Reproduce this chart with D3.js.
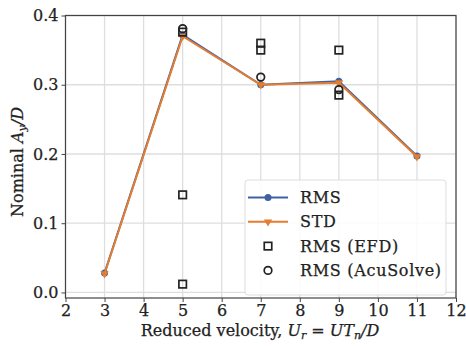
<!DOCTYPE html>
<html>
<head>
<meta charset="utf-8">
<script src="https://d3js.org/d3.v7.min.js"></script>
<style>
  body { margin: 0; background: #fff; }
  svg text { font-family: "DejaVu Serif", serif; fill: #222; }
</style>
</head>
<body>
<div id="chart"></div>
<script>
// reduced velocity
var velocity = [3, 5, 7, 9, 11];
var rmsValues = [0.028, 0.372, 0.300, 0.305, 0.197];
var stdValues = [0.027, 0.370, 0.300, 0.303, 0.196];
// experimental + AcuSolve points
var efdX = [5, 5, 5, 7, 7, 9, 9];
var efdY = [0.376, 0.141, 0.012, 0.360, 0.350, 0.350, 0.285];
var acuX = [5, 7, 9];
var acuY = [0.381, 0.311, 0.293];
var xTicks = [2, 3, 4, 5, 6, 7, 8, 9, 10, 11, 12];
var yTicks = [0.0, 0.1, 0.2, 0.3, 0.4];

var W = 466, H = 346;
var m = {left: 65.5, right: 10, top: 15.5, bottom: 48};

var svg = d3.select("#chart").append("svg")
    .attr("width", W).attr("height", H);

var x = d3.scaleLinear().domain([2, 12]).range([m.left, W - m.right]);
var y = d3.scaleLinear().domain([-0.008, 0.4]).range([H - m.bottom, m.top]);

// grid
svg.append("g").selectAll("line").data(xTicks).enter().append("line")
    .attr("x1", d => x(d)).attr("x2", d => x(d))
    .attr("y1", m.top).attr("y2", H - m.bottom)
    .attr("stroke", "#dedede").attr("stroke-width", 1.3);
svg.append("g").selectAll("line").data(yTicks).enter().append("line")
    .attr("y1", d => y(d)).attr("y2", d => y(d))
    .attr("x1", m.left).attr("x2", W - m.right)
    .attr("stroke", "#dedede").attr("stroke-width", 1.3);

// axes
var xAxis = svg.append("g").attr("transform", "translate(0," + (H - m.bottom) + ")")
    .call(d3.axisBottom(x).tickValues(xTicks).tickFormat(d3.format("d")).tickSize(4).tickPadding(3));
var yAxis = svg.append("g").attr("transform", "translate(" + m.left + ",0)")
    .call(d3.axisLeft(y).tickValues(yTicks).tickFormat(d3.format(".1f")).tickSize(4).tickPadding(3));
[xAxis, yAxis].forEach(function (g) {
    g.select(".domain").remove();
    g.selectAll("line").attr("stroke", "#444");
    g.selectAll("text").style("font-family", "DejaVu Serif").style("font-size", "16px")
        .attr("fill", "#222").attr("stroke", "#222").attr("stroke-width", 0.25);
});

// spines
svg.append("rect")
    .attr("x", m.left).attr("y", m.top)
    .attr("width", W - m.right - m.left).attr("height", H - m.bottom - m.top)
    .attr("fill", "none").attr("stroke", "#444").attr("stroke-width", 1.2);

var blue = "#3f62a3", orange = "#e47d2f";
var line = d3.line().x(d => x(d[0])).y(d => y(d[1]));
var rmsPts = velocity.map((v, i) => [v, rmsValues[i]]);
var stdPts = velocity.map((v, i) => [v, stdValues[i]]);

svg.append("path").datum(rmsPts).attr("d", line)
    .attr("fill", "none").attr("stroke", blue).attr("stroke-width", 2);
svg.append("g").selectAll("circle").data(rmsPts).enter().append("circle")
    .attr("cx", d => x(d[0])).attr("cy", d => y(d[1])).attr("r", 3.5).attr("fill", blue);

var tri = d3.symbol().type(d3.symbolTriangle).size(30);
svg.append("path").datum(stdPts).attr("d", line)
    .attr("fill", "none").attr("stroke", orange).attr("stroke-width", 2);
svg.append("g").selectAll("path").data(stdPts).enter().append("path")
    .attr("d", tri)
    .attr("transform", d => "translate(" + x(d[0]) + "," + y(d[1]) + ") rotate(180)")
    .attr("fill", orange);

// EFD squares
svg.append("g").selectAll("rect").data(efdX.map((v, i) => [v, efdY[i]])).enter().append("rect")
    .attr("x", d => x(d[0]) - 3.75).attr("y", d => y(d[1]) - 3.75)
    .attr("width", 7.5).attr("height", 7.5)
    .attr("fill", "none").attr("stroke", "#222").attr("stroke-width", 1.7);
// AcuSolve circles
svg.append("g").selectAll("circle").data(acuX.map((v, i) => [v, acuY[i]])).enter().append("circle")
    .attr("cx", d => x(d[0])).attr("cy", d => y(d[1])).attr("r", 3.8)
    .attr("fill", "none").attr("stroke", "#222").attr("stroke-width", 1.7);

// legend
var lg = svg.append("g").attr("transform", "translate(245,180)");
lg.append("rect").attr("x", 0).attr("y", 0).attr("width", 201).attr("height", 115)
    .attr("rx", 3).attr("fill", "#fff").attr("fill-opacity", 0.85)
    .attr("stroke", "#ddd").attr("stroke-width", 1);
var labels = ["RMS", "STD", "RMS (EFD)", "RMS (AcuSolve)"];
labels.forEach(function (t, i) {
    var cy = 17.5 + i * 24.3;
    lg.append("text").attr("x", 55).attr("y", cy).attr("dy", "0.35em")
        .style("font-size", "16px").style("letter-spacing", "0.7px")
        .attr("stroke", "#222").attr("stroke-width", 0.25).text(t);
});
lg.append("line").attr("x1", 3).attr("x2", 43).attr("y1", 17.5).attr("y2", 17.5)
    .attr("stroke", blue).attr("stroke-width", 2);
lg.append("circle").attr("cx", 23).attr("cy", 17.5).attr("r", 3.5).attr("fill", blue);
lg.append("line").attr("x1", 3).attr("x2", 43).attr("y1", 41.8).attr("y2", 41.8)
    .attr("stroke", orange).attr("stroke-width", 2);
lg.append("path").attr("d", tri).attr("transform", "translate(23,41.8) rotate(180)").attr("fill", orange);
lg.append("rect").attr("x", 19.25).attr("y", 62.35).attr("width", 7.5).attr("height", 7.5)
    .attr("fill", "none").attr("stroke", "#222").attr("stroke-width", 1.7);
lg.append("circle").attr("cx", 23).attr("cy", 90.4).attr("r", 3.8)
    .attr("fill", "none").attr("stroke", "#222").attr("stroke-width", 1.7);

// axis labels
var xl = svg.append("text").attr("x", 260).attr("y", 336)
    .attr("text-anchor", "middle").style("font-size", "16px")
    .attr("stroke", "#222").attr("stroke-width", 0.25);
xl.append("tspan").text("Reduced velocity, ");
xl.append("tspan").style("font-style", "italic").text("U");
xl.append("tspan").attr("dy", 3).style("font-size", "11px").style("font-style", "italic").text("r");
xl.append("tspan").attr("dy", -3).text(" = ");
xl.append("tspan").style("font-style", "italic").text("UT");
xl.append("tspan").attr("dy", 3).style("font-size", "11px").style("font-style", "italic").text("n");
xl.append("tspan").attr("dy", -3).style("font-style", "italic").text("/D");

var yl = svg.append("text").attr("transform", "translate(23,162) rotate(-90)")
    .attr("text-anchor", "middle").style("font-size", "16px")
    .attr("stroke", "#222").attr("stroke-width", 0.25);
yl.append("tspan").text("Nominal ");
yl.append("tspan").style("font-style", "italic").text("A");
yl.append("tspan").attr("dy", 3).style("font-size", "11px").style("font-style", "italic").text("y");
yl.append("tspan").attr("dy", -3).style("font-style", "italic").text("/D");
</script>
</body>
</html>
